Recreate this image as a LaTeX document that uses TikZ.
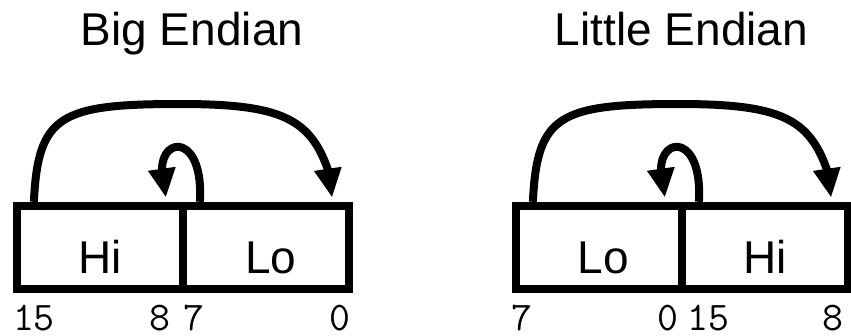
\documentclass[tikz,border=0pt]{standalone}
\usepackage{fontspec}
\setmainfont{Liberation Sans}
\usetikzlibrary{arrows.meta,calc}
\tikzset{
  cell/.style={draw=black, line width=6.2pt, inner sep=0pt, minimum width=124.7pt,
    text height=50.3pt, text depth=12.15pt, anchor=base,
    font=\fontsize{34.5}{40}\selectfont},
  title/.style={inner sep=0pt, anchor=base, font=\fontsize{34.5}{40}\selectfont},
  bitlbl/.style={inner sep=0pt, anchor=base, font=\ttfamily\fontsize{30.5}{36}\selectfont},
  arr/.style={line width=6pt, line join=round,
    -{Triangle[length=21.8pt,width=19.3pt]}}
}
\begin{document}
\begin{tikzpicture}[x=0.75pt,y=-0.75pt]
\useasboundingbox (0,0) rectangle (851,336);
% ---------- Big Endian ----------
\node[title] (tb) at (192,45) {Big Endian};
\node[cell] (bh) at (99.85,273) {Hi};
\node[cell] (bl) at (266.15,273) {\kern6.75pt Lo};
\node[bitlbl] (b15) at (34,330) {15};
\node[bitlbl] (b8) at (160,330) {8};
\node[bitlbl] (b7) at (194,330) {7};
\node[bitlbl] (b0) at (340,330) {0};
\draw[arr] ($(bh.north west)+(21.3,0)$) .. controls (38,115) and (60,104) .. (180,104)
  .. controls (280,104) and (310,118) .. (328,170) -- ($(bl.north east)+(-21.3,-4.2)$);
\draw[arr] ($(bl.north west)+(21,0)$) .. controls (204,135) and (162,135) .. (162,170)
  -- ($(bh.north east)+(-21.2,-4.2)$);
% ---------- Little Endian ----------
\begin{scope}[shift={(499,0)}]
\node[title] (tl) at (182.5,45) {Little Endian};
\node[cell] (ll) at (99.85,273) {\kern6.75pt Lo};
\node[cell] (lh) at (266.15,273) {Hi};
\node[bitlbl] (l7) at (22.5,330) {7};
\node[bitlbl] (l0) at (168.5,330) {0};
\node[bitlbl] (l15) at (209.5,330) {15};
\node[bitlbl] (l8) at (333.5,330) {8};
\draw[arr] ($(ll.north west)+(21.3,0)$) .. controls (38,115) and (60,104) .. (180,104)
  .. controls (280,104) and (310,118) .. (328,170) -- ($(lh.north east)+(-21.3,-4.2)$);
\draw[arr] ($(lh.north west)+(21,0)$) .. controls (204,135) and (162,135) .. (162,170)
  -- ($(ll.north east)+(-21.2,-4.2)$);
\end{scope}
\end{tikzpicture}
\end{document}
